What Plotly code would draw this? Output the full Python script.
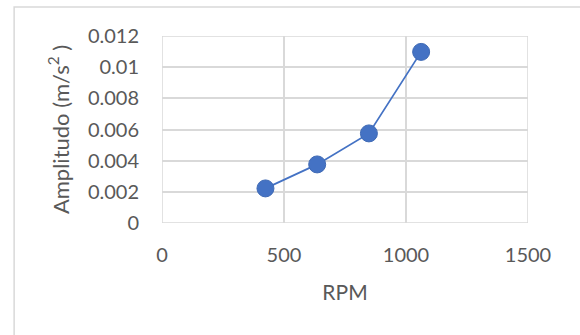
import plotly.graph_objects as go

rpm = [424, 636, 848, 1062]
amplitudo = [0.00222, 0.00376, 0.00575, 0.01098]
x_ticks = [0, 500, 1000, 1500]
y_ticks = [0, 0.002, 0.004, 0.006, 0.008, 0.01, 0.012]
y_tick_labels = ["0", "0.002", "0.004", "0.006", "0.008", "0.01", "0.012"]

FONT = "Lato"
TXT = "#595959"
GRID = "#d9d9d9"

fig = go.Figure()
fig.add_trace(go.Scatter(
    x=rpm, y=amplitudo, mode="lines+markers",
    line=dict(color="#4472C4", width=1.75),
    marker=dict(size=17, color="#4472C4", line=dict(color="#3f6ab5", width=1)),
    showlegend=False, cliponaxis=False,
))

fig.update_layout(
    width=580, height=335,
    margin=dict(l=162, r=52, t=36, b=112),
    paper_bgcolor="white", plot_bgcolor="white",
    font=dict(family=FONT, size=20, color=TXT),
    xaxis=dict(
        range=[0, 1500], tickvals=x_ticks, showgrid=True, gridcolor=GRID, gridwidth=1.5,
        zeroline=False, showline=False, ticks="", ticklabelstandoff=18,
        title=dict(text="RPM", font=dict(size=21, color=TXT), standoff=20),
        tickfont=dict(size=20, color=TXT),
    ),
    yaxis=dict(
        range=[0, 0.012], tickvals=y_ticks, ticktext=y_tick_labels, showgrid=True,
        gridcolor=GRID, gridwidth=1.5, zeroline=False, showline=False, ticks="",
        ticklabelstandoff=22,
        title=dict(text="Amplitudo (m/s<sup>2</sup> )", font=dict(size=22, color=TXT), standoff=12),
        tickfont=dict(size=20, color=TXT),
    ),
    shapes=[
        dict(type="rect", xref="paper", yref="paper",
             x0=-0.404, x1=1.2, y0=-0.7, y1=1.155,
             line=dict(color=GRID, width=1.5)),
        dict(type="line", xref="x", yref="y", x0=1500, x1=1500, y0=0, y1=0.012,
             line=dict(color=GRID, width=1.5)),
        dict(type="line", xref="x", yref="y", x0=0, x1=1500, y0=0.012, y1=0.012,
             line=dict(color=GRID, width=1.5)),
        dict(type="line", xref="x", yref="y", x0=0, x1=1500, y0=0, y1=0,
             line=dict(color=GRID, width=1.5)),
        dict(type="line", xref="x", yref="y", x0=0, x1=0, y0=0, y1=0.012,
             line=dict(color=GRID, width=1.5)),
    ],
)

fig.write_html("out.html", config={"displayModeBar": False},
               post_script="document.body.style.margin='0';")
